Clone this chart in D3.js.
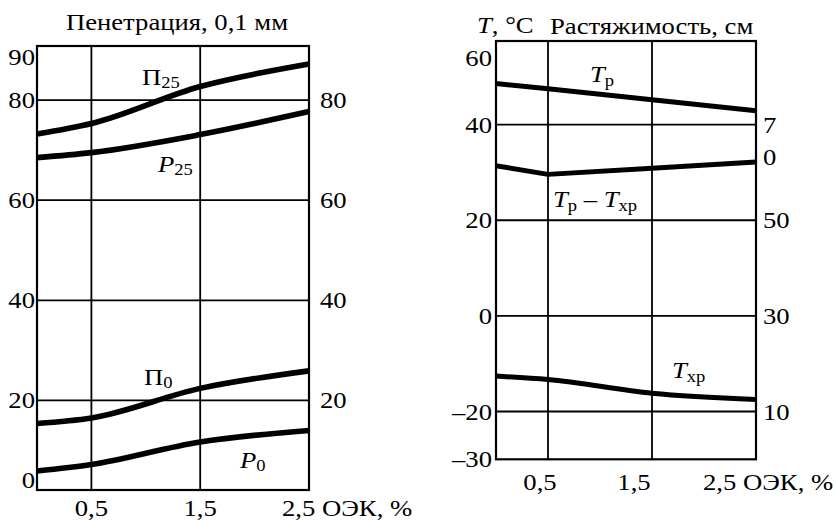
<!DOCTYPE html>
<html>
<head>
<meta charset="utf-8">
<script src="https://cdn.jsdelivr.net/npm/d3@7"></script>
<style>
  body { margin: 0; background: #fff; }
</style>
</head>
<body>
<svg id="chart" width="835" height="520"></svg>
<script>
// ---- data ----
const oek = [0, 0.5, 1.5, 2.5];                 // ОЭК, %
const pen25 = [73.2, 75.3, 82.7, 87.2];         // П25, penetration at 25 °C
const ring25 = [68.5, 69.5, 73.1, 77.7];        // P25
const pen0 = [15.4, 16.5, 22.4, 25.9];          // П0, penetration at 0 °C
const ring0 = [5.9, 7.2, 11.7, 14.0];           // P0
const tSoft = [48.6, 47.5, 45.2, 42.9];         // Tр
const tSpan = [31.4, 29.6, 30.9, 32.2];         // Tр − Tхр
const tBrittle = [-12.6, -13.3, -16.2, -17.5];  // Tхр

const xTicks = [0.5, 1.5, 2.5];
const xTickLabels = ["0,5", "1,5", "2,5"];
const xUnit = "ОЭК, %";
const penTicksLeft = [0, 20, 40, 60, 80, 90];
const penTicksRight = [20, 40, 60, 80];
const penGrid = [20, 40, 60, 80];
const tTicks = [-30, -20, 0, 20, 40, 60];
const tGrid = [-20, 0, 20, 40];
const cmTicks = [10, 30, 50, 70];

// ---- layout ----
const svg = d3.select("#chart");
const FS = 23, SUB = 16;
const SX = 1.16;               // the lettering is set slightly wide
const fmt = v => (v < 0 ? "–" + Math.abs(v) : String(v));

// a text anchored at (x, y), widened horizontally by SX
function label(x, y, anchor, size) {
  return svg.append("g")
    .attr("transform", `translate(${x},${y}) scale(${SX},1)`)
    .append("text")
    .style("font-family", '"Liberation Serif"')
    .style("font-size", (size || FS) + "px")
    .attr("text-anchor", anchor || "start")
    .attr("fill", "#000");
}

function panel(box, yDomain) {
  const x = d3.scaleLinear().domain([0, 2.5]).range([box.x0, box.x1]);
  const y = d3.scaleLinear().domain(yDomain).range([box.y1, box.y0]);
  return { x, y, box };
}

function frame(p, hGrid) {
  const g = svg.append("g");
  g.selectAll("line.h").data(hGrid).join("line")
    .attr("x1", p.box.x0).attr("x2", p.box.x1)
    .attr("y1", d => p.y(d)).attr("y2", d => p.y(d))
    .attr("stroke", "#000").attr("stroke-width", 1.8);
  g.selectAll("line.v").data(xTicks.slice(0, 2)).join("line")
    .attr("x1", d => p.x(d)).attr("x2", d => p.x(d))
    .attr("y1", p.box.y0).attr("y2", p.box.y1)
    .attr("stroke", "#000").attr("stroke-width", 1.8);
  g.append("rect")
    .attr("x", p.box.x0).attr("y", p.box.y0)
    .attr("width", p.box.x1 - p.box.x0).attr("height", p.box.y1 - p.box.y0)
    .attr("fill", "none").attr("stroke", "#000").attr("stroke-width", 2.2);
}

function tickLabels(p, ticks, xPos, anchor, scale, padTop, padBottom) {
  ticks.forEach(d => {
    const y = Math.max(p.box.y0 + padTop, Math.min(p.box.y1 - padBottom, scale(d)));
    label(xPos, y, anchor).attr("dy", "0.35em").text(fmt(d));
  });
}

function series(p, values, width, curve) {
  const line = d3.line().x((d, i) => p.x(oek[i])).y(d => p.y(d)).curve(curve);
  svg.append("path").datum(values)
    .attr("d", line)
    .attr("fill", "none").attr("stroke", "#000")
    .attr("stroke-width", width).attr("stroke-linejoin", "round");
}

function seriesLabel(x, y, main, sub, italic, subDy) {
  const t = label(x, y, "start", FS);
  t.append("tspan").text(main).style("font-style", italic ? "italic" : "normal");
  t.append("tspan").text(sub).style("font-size", SUB + "px").attr("dy", subDy);
  return t;
}

// ---- left panel: penetration ----
const left = panel({ x0: 37, x1: 309, y0: 46, y1: 490 }, [2.1, 90.8]);
frame(left, penGrid);
[pen25, ring25, pen0, ring0].forEach(s => series(left, s, 5.6, d3.curveMonotoneX));

tickLabels(left, penTicksLeft, 35, "end", left.y, 11, 10);
tickLabels(left, penTicksRight, 320, "start", left.y, 11, 10);

label(177, 30, "middle").text("Пенетрация, 0,1 мм");

seriesLabel(142, 85, "П", "25", false, 3);
seriesLabel(158, 172, "P", "25", true, 3);
seriesLabel(144, 385, "П", "0", false, 3);
seriesLabel(240, 468, "P", "0", true, 3);

xTicks.forEach((d, i) => {
  if (i < 2) label(left.x(d), 516, "middle").text(xTickLabels[i]);
  else label(left.x(d) - 27, 516, "start").text(xTickLabels[i] + " " + xUnit);
});

// ---- right panel: temperatures and ductility ----
const right = panel({ x0: 496, x1: 756, y0: 41, y1: 459.3 }, [-30, 57.5]);
const cm = right.y.copy().domain(right.y.domain().map(d => d + 30));
frame(right, tGrid);
series(right, tSoft, 5, d3.curveLinear);
series(right, tSpan, 5, d3.curveLinear);
series(right, tBrittle, 5, d3.curveMonotoneX);

tickLabels(right, tTicks, 492, "end", right.y, 17, 0);
tickLabels(right, cmTicks.slice(0, 3), 763, "start", cm, 0, 0);
// the 70 cm label is set vertically, one digit under the other
String(cmTicks[3]).split("").forEach((ch, i) => {
  label(763, cm(cmTicks[3]) + i * 32, "start").attr("dy", "0.35em").text(ch);
});

const tTitle = label(477, 33, "start");
tTitle.append("tspan").text("T").style("font-style", "italic");
tTitle.append("tspan").text(", °C");
label(550, 34, "start").text("Растяжимость, см");

seriesLabel(590, 82, "T", "р", true, 4);
const diff = label(553, 207, "start", FS);
diff.append("tspan").text("T").style("font-style", "italic");
diff.append("tspan").text("р").style("font-size", SUB + "px").attr("dy", 4);
diff.append("tspan").text(" – ").attr("dy", -4);
diff.append("tspan").text("T").style("font-style", "italic");
diff.append("tspan").text("хр").style("font-size", SUB + "px").attr("dy", 4);
seriesLabel(672, 378, "T", "хр", true, 4);

const rxOffset = [-8, -18, -53];
xTicks.forEach((d, i) => {
  if (i < 2) label(right.x(d) + rxOffset[i], 490, "middle").text(xTickLabels[i]);
  else label(right.x(d) + rxOffset[i], 490, "start").text(xTickLabels[i] + " " + xUnit);
});
</script>
</body>
</html>
